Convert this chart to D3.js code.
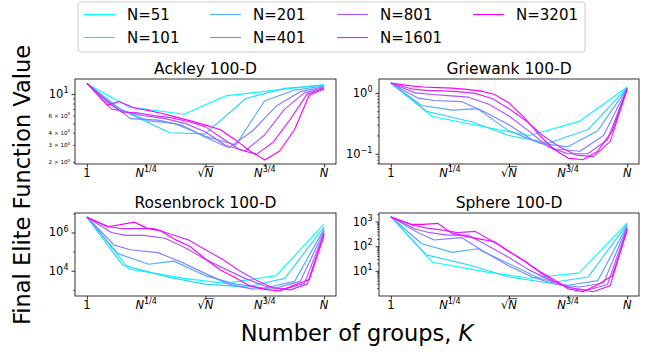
<!DOCTYPE html>
<html><head><meta charset="utf-8">
<script src="https://cdn.jsdelivr.net/npm/d3@7"></script>
<style>
body{margin:0;background:#fff}
svg{display:block}
text{font-family:"DejaVu Sans",sans-serif;fill:#000}
</style>
</head><body>
<svg id="c" width="651" height="352"></svg>
<script>
// ---------------- data ----------------
const nValues = [51, 101, 201, 401, 801, 1601, 3201];
const seriesLabels = ["N=51", "N=101", "N=201", "N=401", "N=801", "N=1601", "N=3201"];

// number of groups K evaluated for each population size N
const kValues = [
  [1, 2, 5, 10, 23, 51],
  [1, 2, 5, 10, 22, 47, 101],
  [1, 2, 4, 7, 14, 28, 53, 104, 201],
  [1, 2, 3, 6, 11, 20, 36, 66, 121, 220, 401],
  [1, 2, 3, 5, 9, 16, 28, 49, 86, 150, 263, 459, 801],
  [1, 2, 3, 5, 8, 14, 24, 40, 68, 115, 194, 329, 558, 945, 1601],
  [1, 2, 3, 5, 8, 12, 21, 34, 57, 94, 155, 257, 426, 705, 1168, 1933, 3201]
];

const ackley = [
  [12.8, 7.4, 6.2, 9.6, 11.0, 12.5],
  [12.9, 6.8, 4.0, 3.9, 9.0, 11.5, 12.3],
  [12.9, 7.2, 5.3, 5.0, 3.7, 3.0, 8.5, 11.0, 12.1],
  [12.9, 7.5, 5.6, 5.4, 4.8, 3.6, 2.8, 4.2, 7.6, 10.6, 11.9],
  [12.9, 7.0, 6.6, 6.0, 5.6, 5.0, 4.1, 3.0, 2.6, 3.8, 7.0, 10.3, 11.7],
  [12.9, 8.0, 6.5, 6.4, 6.0, 5.7, 5.2, 4.6, 3.5, 2.7, 2.4, 3.2, 5.5, 10.0, 11.5],
  [13.0, 7.7, 8.4, 7.2, 6.8, 6.4, 5.8, 5.3, 4.8, 4.3, 3.4, 2.6, 2.1, 2.6, 4.3, 9.8, 11.3]
];

const griewank = [
  [1.45, 0.41, 0.27, 0.20, 0.34, 1.25],
  [1.45, 0.50, 0.33, 0.20, 0.15, 0.25, 1.22],
  [1.45, 0.62, 0.52, 0.55, 0.24, 0.15, 0.13, 0.24, 1.20],
  [1.45, 0.82, 0.75, 0.72, 0.48, 0.30, 0.17, 0.12, 0.11, 0.20, 1.18],
  [1.45, 1.00, 0.95, 0.90, 0.85, 0.65, 0.42, 0.24, 0.13, 0.10, 0.10, 0.17, 1.18],
  [1.45, 1.15, 1.10, 1.08, 1.05, 0.98, 0.80, 0.55, 0.35, 0.20, 0.13, 0.095, 0.09, 0.16, 1.17],
  [1.45, 1.30, 1.25, 1.22, 1.20, 1.15, 1.08, 0.95, 0.68, 0.40, 0.21, 0.12, 0.085, 0.08, 0.11, 0.24, 1.15]
];

const rosenbrock = [
  [7.1e6, 1.26e4, 4.0e3, 2.2e3, 5.6e3, 2.8e6],
  [6.3e6, 2.0e4, 4.5e3, 2.0e3, 1.4e3, 4.0e3, 2.0e6],
  [6.3e6, 7.9e4, 2.2e4, 3.2e4, 5.6e3, 2.0e3, 1.26e3, 2.8e3, 1.6e6],
  [6.3e6, 2.2e5, 1.26e5, 8.9e4, 2.8e4, 7.1e3, 2.0e3, 1.1e3, 1.3e3, 2.8e3, 1.26e6],
  [6.3e6, 1.0e6, 7.1e5, 7.1e5, 5.0e5, 1.6e5, 4.0e4, 1.26e4, 4.0e3, 1.6e3, 1.1e3, 2.2e3, 1.0e6],
  [6.3e6, 2.0e6, 1.6e6, 1.6e6, 1.6e6, 7.9e5, 4.0e5, 1.26e5, 4.0e4, 1.0e4, 3.2e3, 1.26e3, 1.0e3, 2.0e3, 8.9e5],
  [6.3e6, 2.0e6, 2.5e6, 3.5e6, 1.6e6, 1.26e6, 4.0e5, 1.8e5, 4.0e4, 1.1e4, 4.5e3, 1.6e3, 1.07e3, 8.9e2, 1.8e3, 3.5e3, 7.1e5]
];

const sphere = [
  [1580, 22.4, 8.9, 5.0, 8.3, 890],
  [1580, 44.7, 15.8, 5.6, 3.2, 5.6, 790],
  [1580, 126, 56, 79, 20, 5.0, 2.6, 4.0, 710],
  [1580, 355, 180, 224, 56, 15.8, 5.6, 2.8, 2.2, 3.2, 630],
  [1580, 500, 355, 282, 282, 100, 35.5, 11.2, 4.5, 2.1, 1.66, 2.8, 560],
  [1580, 710, 560, 450, 355, 400, 158, 63, 22.4, 7.1, 2.8, 1.78, 1.41, 2.5, 500],
  [1510, 776, 776, 851, 339, 263, 195, 155, 60, 26.3, 10.2, 4.6, 1.86, 1.41, 2.7, 6.3, 447]
];

// tick positions (log K / log N) and labels
const xTickValues = [0, 0.25, 0.5, 0.75, 1];
const xTickLabels = [["1", ""], ["N", "1/4"], ["√N", ""], ["N", "3/4"], ["N", ""]];

const ackleyTicks = [10];
const ackleyTickLabels = [["10", "1"]];
const ackleyMinorLabeled = [6, 4, 3, 2];
const ackleyMinorLabels = [["6 × 10", "0"], ["4 × 10", "0"], ["3 × 10", "0"], ["2 × 10", "0"]];
const griewankTicks = [1, 0.1];
const griewankTickLabels = [["10", "0"], ["10", "−1"]];
const rosenbrockTicks = [1e4, 1e6];
const rosenbrockTickLabels = [["10", "4"], ["10", "6"]];
const rosenbrockMinor = [1e3, 1e5, 1e7];
const sphereTicks = [10, 100, 1000];
const sphereTickLabels = [["10", "1"], ["10", "2"], ["10", "3"]];

// ---------------- layout ----------------
const svg = d3.select("#c");
const color = i => { const t = i / 6; return d3.rgb(Math.round(255 * t), Math.round(255 * (1 - t)), 255).toString(); };

function minorTicks(dom) {
  const out = [];
  for (let e = Math.floor(Math.log10(dom[0])); e <= Math.ceil(Math.log10(dom[1])); e++) {
    for (let m = 2; m <= 9; m++) { const v = m * Math.pow(10, e); if (v >= dom[0] && v <= dom[1]) out.push(v); }
  }
  return out;
}

const panels = [
  { title: "Ackley 100-D", data: ackley, L: 75, R: 336, T: 79, B: 164, dom: [1.91, 14.3],
    major: ackleyTicks, majorLabels: ackleyTickLabels, minor: minorTicks([1.91, 14.3]),
    minorLab: ackleyMinorLabeled, minorLabText: ackleyMinorLabels },
  { title: "Griewank 100-D", data: griewank, L: 379, R: 639, T: 79, B: 164, dom: [0.068, 1.69],
    major: griewankTicks, majorLabels: griewankTickLabels, minor: minorTicks([0.068, 1.69]),
    minorLab: [], minorLabText: [] },
  { title: "Rosenbrock 100-D", data: rosenbrock, L: 75, R: 336, T: 213, B: 296, dom: [480, 1.05e7],
    major: rosenbrockTicks, majorLabels: rosenbrockTickLabels, minor: rosenbrockMinor,
    minorLab: [], minorLabText: [] },
  { title: "Sphere 100-D", data: sphere, L: 379, R: 639, T: 213, B: 296, dom: [0.95, 2240],
    major: sphereTicks, majorLabels: sphereTickLabels, minor: minorTicks([0.95, 2240]),
    minorLab: [], minorLabText: [] }
];

function supText(sel, base, sup, fs, italicBase) {
  const b = sel.append("tspan").text(base);
  if (italicBase) b.attr("font-style", "italic");
  if (sup) sel.append("tspan").attr("font-size", fs * 0.7).attr("dy", -fs * 0.42).text(sup);
}

panels.forEach((p, pi) => {
  const g = svg.append("g");
  const x = d3.scaleLinear().domain([-0.05, 1.05]).range([p.L, p.R]);
  const y = d3.scaleLog().domain(p.dom).range([p.B, p.T]);

  const cid = "clip" + pi;
  g.append("clipPath").attr("id", cid).append("rect")
    .attr("x", p.L).attr("y", p.T).attr("width", p.R - p.L).attr("height", p.B - p.T);

  const line = d3.line().x(d => x(d[0])).y(d => y(d[1]));
  const lg = g.append("g").attr("clip-path", `url(#${cid})`);
  nValues.forEach((n, i) => {
    const pts = kValues[i].map((k, j) => [Math.log(k) / Math.log(n), p.data[i][j]]);
    lg.append("path").attr("d", line(pts)).attr("fill", "none")
      .attr("stroke", color(i)).attr("stroke-width", 1.15).attr("stroke-linejoin", "round");
  });

  // frame
  g.append("rect").attr("x", p.L).attr("y", p.T).attr("width", p.R - p.L).attr("height", p.B - p.T)
    .attr("fill", "none").attr("stroke", "#000").attr("stroke-width", 0.8);

  // axes ticks
  const xa = g.append("g").attr("transform", `translate(0,${p.B})`)
    .call(d3.axisBottom(x).tickValues(xTickValues).tickSize(3.5).tickFormat(""));
  const ya = g.append("g").attr("transform", `translate(${p.L},0)`)
    .call(d3.axisLeft(y).tickValues(p.major).tickSize(3.5).tickFormat(""));
  const ym = g.append("g").attr("transform", `translate(${p.L},0)`)
    .call(d3.axisLeft(y).tickValues(p.minor).tickSize(2).tickFormat(""));
  [xa, ya, ym].forEach(a => { a.select(".domain").remove(); a.selectAll("line").attr("stroke", "#000").attr("stroke-width", 0.8); });
  ym.selectAll("line").attr("stroke-width", 0.6);

  // x tick labels
  const fs = 11.5;
  const by = p.B + 12.5;
  xTickValues.forEach((v, i) => {
    const [base, sup] = xTickLabels[i];
    const t = g.append("text").attr("x", x(v)).attr("y", by).attr("text-anchor", "middle").attr("font-size", fs);
    if (base === "√N") {
      t.append("tspan").text("√");
      t.append("tspan").attr("font-style", "italic").text("N");
      const node = t.node();
      const bb = node.getBBox();
      const w1 = node.getSubStringLength(0, 1);
      g.append("line").attr("x1", bb.x + w1 - 0.5).attr("x2", bb.x + bb.width)
        .attr("y1", by - fs * 0.86).attr("y2", by - fs * 0.86)
        .attr("stroke", "#000").attr("stroke-width", 0.7);
    } else {
      supText(t, base, sup, fs, base === "N");
    }
  });

  // y tick labels (major)
  p.major.forEach((v, i) => {
    const [base, sup] = p.majorLabels[i];
    const t = g.append("text").attr("x", p.L - 6.5).attr("y", y(v) + 3.9).attr("text-anchor", "end").attr("font-size", fs);
    supText(t, base, sup, fs, false);
  });
  // y tick labels (minor, small)
  p.minorLab.forEach((v, i) => {
    const [base, sup] = p.minorLabText[i];
    const t = g.append("text").attr("x", p.L - 5).attr("y", y(v) + 2).attr("text-anchor", "end").attr("font-size", 5.6);
    supText(t, base, sup, 5.6, false);
  });

  // title
  g.append("text").attr("x", (p.L + p.R) / 2).attr("y", p.T - 5).attr("text-anchor", "middle")
    .attr("font-size", 15.5).text(p.title);
});

// legend
const leg = svg.append("g");
leg.append("rect").attr("x", 78).attr("y", 2).attr("width", 507).attr("height", 50).attr("rx", 3)
  .attr("fill", "#fff").attr("stroke", "#cccccc").attr("stroke-width", 1);
const colX = [84, 210, 337, 473];
const rowY = [14.5, 37.5];
seriesLabels.forEach((lab, i) => {
  const c = Math.floor(i / 2), r = i % 2;
  leg.append("line").attr("x1", colX[c]).attr("x2", colX[c] + 31).attr("y1", rowY[r]).attr("y2", rowY[r])
    .attr("stroke", color(i)).attr("stroke-width", 1.15);
  leg.append("text").attr("x", colX[c] + 43).attr("y", rowY[r] + 5.5).attr("font-size", 15).text(lab);
});

// axis labels
svg.append("text").attr("transform", "translate(29.5,185) rotate(-90)").attr("text-anchor", "middle")
  .attr("font-size", 22.5).text("Final Elite Function Value");
const xl = svg.append("text").attr("x", 357).attr("y", 341).attr("text-anchor", "middle").attr("font-size", 22.5);
xl.append("tspan").text("Number of groups, ");
xl.append("tspan").attr("font-style", "italic").text("K");
</script>
</body></html>
